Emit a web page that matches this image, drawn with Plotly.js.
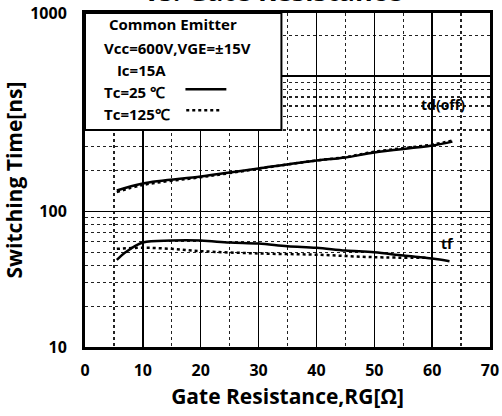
<!DOCTYPE html>
<html>
<head>
<meta charset="utf-8">
<script src="https://cdn.plot.ly/plotly-3.0.1.min.js"></script>
<style>
  html, body { margin: 0; padding: 0; background: #fff; }
  #chart { width: 502px; height: 416px; }
</style>
</head>
<body>
<div id="chart"></div>
<script>
// ---- data ----
const rgTdOff25  = [5.5, 10, 20, 25, 30, 40, 45, 50, 60, 63.5];
const tdOff25    = [143, 161, 181, 194, 208, 238, 250, 273, 307, 328];
const rgTdOff125 = [5.5, 10, 20, 25, 30, 40, 45, 50, 60, 63.5];
const tdOff125   = [139, 157, 179, 192, 207, 238, 252, 276, 312, 334];

const rgTf25  = [5.5, 7, 10, 15, 20, 25, 30, 35, 40, 45, 50, 55, 60, 63];
const tf25    = [44, 50, 59, 61, 61, 59, 58, 55.5, 54, 51.5, 50, 47.3, 45, 43];
const rgTf125 = [5.5, 10, 15, 20, 30, 40, 50, 59];
const tf125   = [53, 54, 53, 51, 49, 48, 46, 45.5];

const xTickVals  = [0, 10, 20, 30, 40, 50, 60, 70];
const xTickText  = ["0", "10", "20", "30", "40", "50", "60", "70"];
const yTickText  = ["10", "100", "", "1000"];
const yMinorVals = [20, 30, 40, 50, 60, 70, 80, 90, 200, 300, 400, 500, 600, 700, 800, 900, 2000];

const legendLines = ["Common Emitter", "Vcc=600V,VGE=±15V", " Ic=15A", "Tc=25 ℃", "Tc=125℃"];
const curveLabels = ["td(off)", "tf"];

// ---- layout constants ----
const yTopLog = 3.465;                      // top of plot in log10 units
const yTickVals = [10, 100, 1000, Math.pow(10, yTopLog)];
const FONT = "'Open Sans', Lato, sans-serif";

const lineSolid = {color: "#000", width: 2.5, shape: "spline"};
const lineDot   = {color: "#000", width: 2.5, dash: "dot", shape: "spline"};

const traces = [
  {x: rgTdOff125, y: tdOff125, mode: "lines", line: lineDot,   showlegend: false, hoverinfo: "skip"},
  {x: rgTdOff25,  y: tdOff25,  mode: "lines", line: lineSolid, showlegend: false, hoverinfo: "skip"},
  {x: rgTf125,    y: tf125,    mode: "lines", line: lineDot,   showlegend: false, hoverinfo: "skip"},
  {x: rgTf25,     y: tf25,     mode: "lines", line: lineSolid, showlegend: false, hoverinfo: "skip"}
];

// legend box geometry (paper coords)
const boxX1 = 0.485, boxY0 = 0.650;
const rowY = [0.968, 0.895, 0.829, 0.764, 0.699];
const rowX = [0.055, 0.043, 0.065, 0.043, 0.043];

const annotations = [
  {text: "vs. Gate Resistance", xref: "paper", yref: "paper", x: 0.465, y: 1.0, yshift: 2,
   xanchor: "center", yanchor: "bottom", showarrow: false,
   font: {family: FONT, size: 27, color: "#000", weight: "bold"}},
  {text: curveLabels[0], x: 61.9, y: Math.log10(620), xanchor: "center", yanchor: "middle", showarrow: false,
   font: {family: FONT, size: 14, color: "#000", weight: "bold"}},
  {text: curveLabels[1], x: 62.7, y: Math.log10(58), xanchor: "center", yanchor: "middle", showarrow: false,
   font: {family: FONT, size: 14, color: "#000", weight: "bold"}}
];
legendLines.forEach((t, i) => {
  annotations.push({text: t, xref: "paper", yref: "paper", x: rowX[i], y: rowY[i],
    xanchor: "left", yanchor: "middle", showarrow: false,
    font: {family: FONT, size: 15, color: "#000", weight: "bold"}});
});

const shapes = [
  {type: "rect", xref: "paper", yref: "paper", x0: 0, x1: boxX1, y0: boxY0, y1: 1,
   fillcolor: "#fff", line: {color: "#000", width: 2}, layer: "above"},
  {type: "line", xref: "paper", yref: "paper", x0: 0.248, x1: 0.349, y0: rowY[3] + 0.008, y1: rowY[3] + 0.008,
   line: {color: "#000", width: 2.5}, layer: "above"},
  {type: "line", xref: "paper", yref: "paper", x0: 0.250, x1: 0.335, y0: rowY[4] + 0.01, y1: rowY[4] + 0.01,
   line: {color: "#000", width: 2.5, dash: "dot"}, layer: "above"}
];

const layout = {
  width: 502, height: 416,
  margin: {l: 85, r: 12, t: 13, b: 69, pad: 0},
  paper_bgcolor: "#fff", plot_bgcolor: "#fff",
  font: {family: FONT, color: "#000"},
  showlegend: false,
  xaxis: {
    range: [0, 70], tickmode: "array", tickvals: xTickVals, ticktext: xTickText,
    showgrid: true, gridcolor: "#000", gridwidth: 1.5,
    minor: {dtick: 5, showgrid: true, gridcolor: "#222", gridwidth: 1.2, griddash: "dot"},
    showline: true, linecolor: "#000", linewidth: 3, mirror: true,
    ticks: "", ticklabelstandoff: 7, zeroline: false,
    tickfont: {family: FONT, size: 16, color: "#000", weight: "bold"},
    title: {text: "Gate Resistance,RG[Ω]", standoff: 10,
            font: {family: FONT, size: 21, color: "#000", weight: "bold"}}
  },
  yaxis: {
    type: "log", range: [1, yTopLog], tickmode: "array", tickvals: yTickVals, ticktext: yTickText,
    showgrid: true, gridcolor: "#000", gridwidth: 1.5,
    minor: {tickmode: "array", tickvals: yMinorVals, showgrid: true, gridcolor: "#222", gridwidth: 1.2, griddash: "dot"},
    showline: true, linecolor: "#000", linewidth: 3, mirror: true,
    ticks: "", ticklabelstandoff: 12, zeroline: false,
    tickfont: {family: FONT, size: 16, color: "#000", weight: "bold"},
    title: {text: "Switching Time[ns]", standoff: 4,
            font: {family: FONT, size: 21, color: "#000", weight: "bold"}}
  },
  annotations: annotations,
  shapes: shapes
};

Plotly.newPlot("chart", traces, layout, {staticPlot: true, displayModeBar: false});
</script>
</body>
</html>
